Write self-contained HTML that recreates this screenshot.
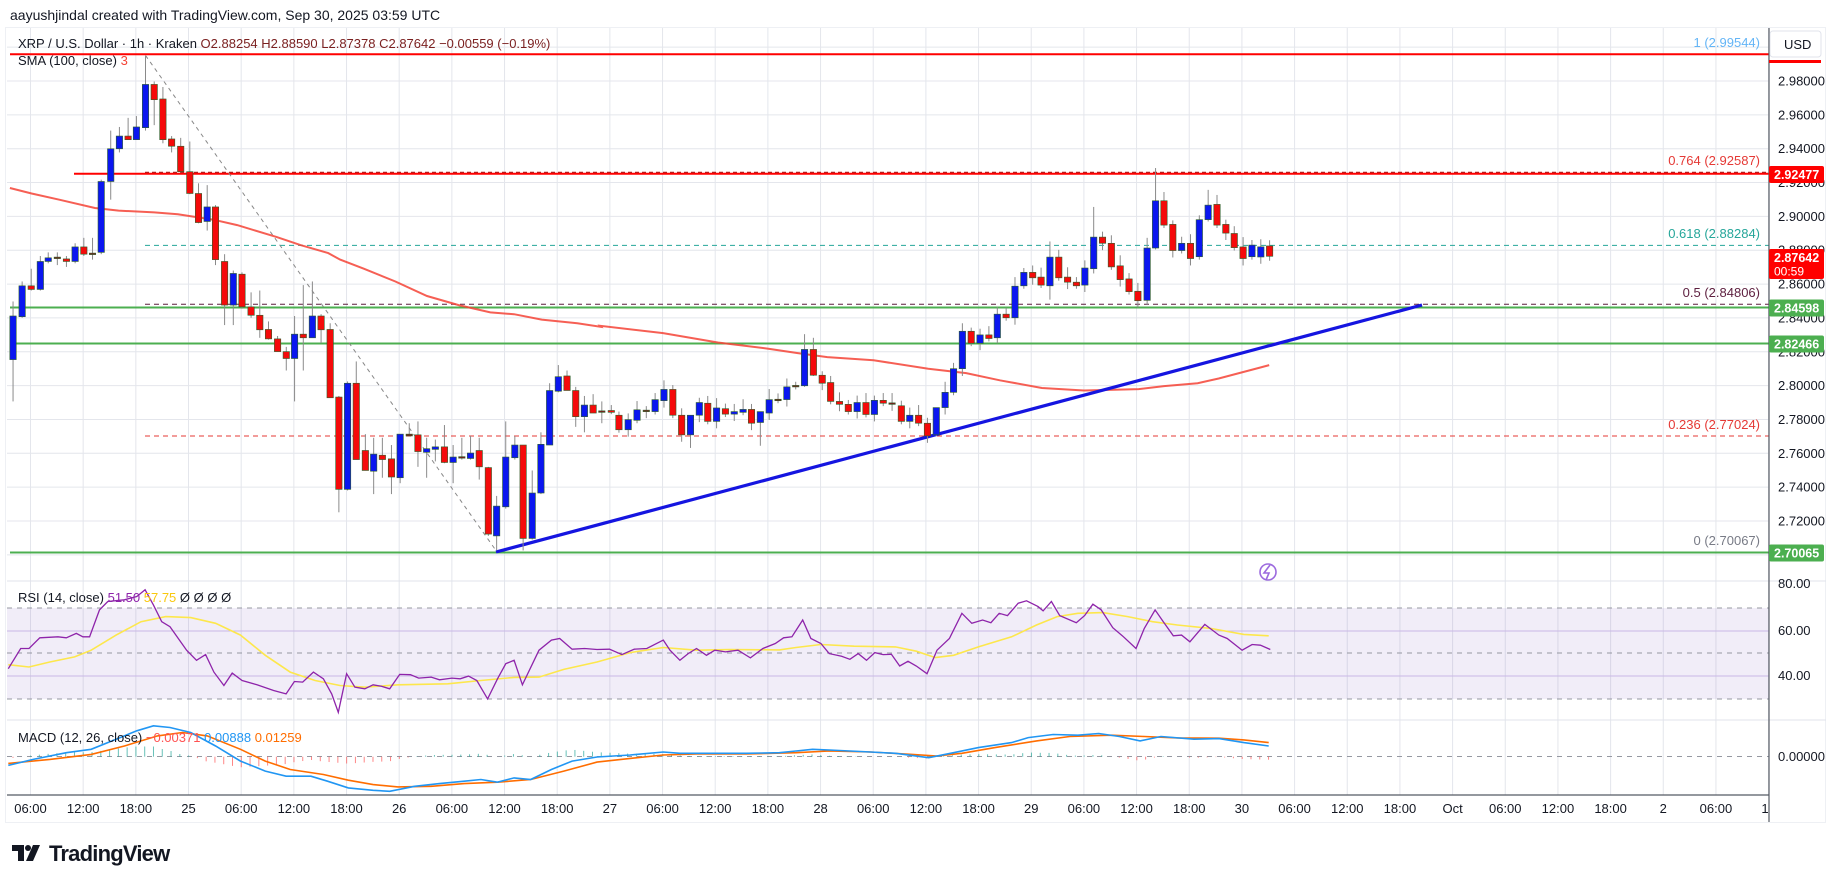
<!DOCTYPE html>
<html><head><meta charset="utf-8">
<style>
html,body{margin:0;padding:0;background:#fff;width:1835px;height:883px;overflow:hidden}
svg{display:block;font-family:"Liberation Sans",sans-serif}
</style></head><body>
<svg id="s" width="1835" height="883" viewBox="0 0 1835 883" xmlns="http://www.w3.org/2000/svg">
<defs>
<clipPath id="plot"><rect x="7" y="28" width="1762" height="767"/></clipPath>
<clipPath id="main"><rect x="7" y="28" width="1762" height="553"/></clipPath>
<clipPath id="rsi"><rect x="7" y="582" width="1762" height="138"/></clipPath>
<clipPath id="macd"><rect x="7" y="721" width="1762" height="74"/></clipPath>
</defs>
<rect x="0" y="0" width="1835" height="883" fill="#fff"/>
<text x="10" y="20" font-size="14" fill="#131722">aayushjindal created with TradingView.com, Sep 30, 2025 03:59 UTC</text>
<rect x="5.5" y="27.5" width="1820" height="795" fill="#fff" stroke="#eef0f4" stroke-width="1"/>
<g id="grid"></g>
<g id="g"></g>
</svg>
<script>
const NS="http://www.w3.org/2000/svg";
const G=document.getElementById('g'), GR=document.getElementById('grid');
function el(p,tag,a,txt){const e=document.createElementNS(NS,tag);for(const k in a)e.setAttribute(k,a[k]);if(txt!==undefined)e.textContent=txt;p.appendChild(e);return e;}
const py=p=>81+(2.98-p)*1692.3;
for(let k=0;k<=34;k++){const x=30.5+52.67*k;if(x<1769)el(GR,'line',{x1:x,y1:28,x2:x,y2:795,stroke:'#e4e6ec','stroke-width':1});}
for(let p=2.70;p<=3.001;p+=0.02){el(GR,'line',{x1:7,y1:py(p),x2:1769,y2:py(p),stroke:'#e4e6ec'});}
[631,676].forEach(y=>el(GR,'line',{x1:7,y1:y,x2:1769,y2:y,stroke:'#e4e6ec'}));
el(G,'line',{x1:7,y1:581,x2:1826,y2:581,stroke:'#e0e3eb'});
el(G,'line',{x1:7,y1:720,x2:1826,y2:720,stroke:'#e0e3eb'});
el(G,'rect',{x:7,y:608,width:1762,height:91,fill:'#7e57c2','fill-opacity':0.11});
[608,653,699].forEach(y=>el(G,'line',{x1:7,y1:y,x2:1769,y2:y,stroke:'#9598a1','stroke-dasharray':'5,5','stroke-width':1}));
[631,676].forEach(y=>el(G,'line',{x1:7,y1:y,x2:1769,y2:y,stroke:'#c9b8e6'}));
el(G,'line',{x1:7,y1:756.5,x2:1769,y2:756.5,stroke:'#9598a1','stroke-dasharray':'5,5'});
const M=el(G,'g',{'clip-path':'url(#main)'});
el(M,'line',{x1:10,y1:54.3,x2:1769,y2:54.3,stroke:'#ff0000','stroke-width':2});
el(M,'line',{x1:74,y1:173.8,x2:1769,y2:173.8,stroke:'#ff0000','stroke-width':2});
el(M,'line',{x1:145,y1:172.4,x2:1769,y2:172.4,stroke:'#b71c1c','stroke-dasharray':'4,3','stroke-width':1.2});
el(M,'line',{x1:145,y1:245.4,x2:1769,y2:245.4,stroke:'#26a69a','stroke-dasharray':'5,4','stroke-width':1});
el(M,'line',{x1:145,y1:304.2,x2:1769,y2:304.2,stroke:'#5d1f3f','stroke-dasharray':'5,4','stroke-width':1});
el(M,'line',{x1:10,y1:307.5,x2:1769,y2:307.5,stroke:'#4caf50','stroke-width':2});
el(M,'line',{x1:10,y1:343.5,x2:1769,y2:343.5,stroke:'#4caf50','stroke-width':2});
el(M,'line',{x1:145,y1:436,x2:1769,y2:436,stroke:'#e53935','stroke-dasharray':'5,4','stroke-width':1});
el(M,'line',{x1:10,y1:552.5,x2:1769,y2:552.5,stroke:'#4caf50','stroke-width':2});
el(M,'line',{x1:145.5,y1:55.4,x2:496,y2:550.5,stroke:'#888','stroke-dasharray':'4,4','stroke-width':1});
function pts(arr,fx,fy){return arr.map(p=>fx(p[0]).toFixed(1)+','+fy(p[1]).toFixed(1)).join(' ');}
const x6=x=>x/2.529, y6=y=>27+y/2.751, x7=x=>600+x/2.376;
const sma6=[[25,443],[80,458],[150,475],[240,498],[300,505],[390,510],[450,515],[540,530],[600,545],[700,578],[760,600],[830,622],[860,640],[920,665],[1000,700],[1080,740],[1160,765],[1240,785],[1300,790],[1370,805],[1460,815],[1520,825]];
const sma7=[[0,822],[150,842],[280,868],[400,885],[470,897],[540,908],[650,917],[780,940],[870,952],[950,972],[1050,993],[1150,1000],[1280,996],[1340,988],[1420,980],[1470,967],[1568,937],[1590,930]];
el(M,'polyline',{points:pts(sma6,x6,y6)+' '+pts(sma7,x7,y6),fill:'none',stroke:'#f44336','stroke-width':2,'stroke-opacity':0.85});
const c6=[[33,'B',795,915,755,1030],[56,'B',712,797,700,800],[79,'R',712,722,665,725],[102,'B',645,722,630,725],[122,'B',635,645,620,650],[145,'D',633,635,620,655],[168,'R',638,645,630,660],[190,'B',605,645,595,650],[212,'R',605,625,580,630],[234,'D',622,625,580,640],[256,'B',425,620,420,625],[280,'B',335,425,285,475],[302,'B',300,335,275,345],[324,'R',300,310,250,310],[345,'B',275,310,245,310],[368,'B',158,277,80,285],[390,'R',158,200,150,270],[412,'R',198,310,165,320],[434,'R',308,328,300,345],[457,'R',328,398,305,400],[480,'R',398,458,315,460],[502,'R',458,538,430,540],[524,'B',495,535,435,560],[545,'R',495,640,490,655],[568,'R',645,765,625,820],[590,'B',678,765,670,820],[612,'R',680,770,675,775],[635,'R',770,793,730,800],[657,'R',793,833,725,855],[679,'R',832,858,810,860],[702,'R',858,893,850,893],[724,'R',893,912,880,945],[745,'B',845,912,795,1030],[767,'R',845,855,710,945],[790,'B',795,855,700,855],[812,'R',795,833,790,870],[835,'R',832,1020,815,1020],[857,'R',1018,1272,1015,1335],[879,'B',980,1272,975,1275],[901,'R',980,1190,920,1190],[924,'R',1165,1220,1120,1220],[945,'B',1175,1222,1130,1285],[967,'R',1178,1190,1130,1240],[990,'R',1188,1238,1150,1285],[1012,'B',1120,1240,1120,1255],[1035,'D',1120,1125,1090,1125],[1057,'R',1122,1168,1085,1210],[1079,'B',1160,1170,1130,1240],[1101,'B',1155,1162,1135,1195],[1124,'R',1155,1198,1095,1200],[1146,'B',1183,1198,1150,1255],[1168,'D',1182,1185,1130,1190],[1190,'B',1172,1187,1125,1190],[1212,'R',1165,1210,1130,1245],[1235,'R',1212,1395,1210,1400],[1256,'B',1318,1400,1290,1440],[1279,'B',1183,1320,1085,1325],[1302,'B',1150,1185,1125,1190],[1323,'R',1150,1407,1150,1440],[1346,'B',1282,1407,1220,1410],[1368,'B',1148,1282,1115,1285],[1390,'B',1000,1150,980,1150],[1412,'B',962,1002,930,1005],[1434,'R',960,1000,945,1000],[1456,'R',1000,1072,990,1100],[1478,'B',1040,1072,1015,1115],[1500,'R',1040,1062,1010,1062],[1522,'D',1056,1059,1030,1090],[1546,'R',1055,1060,1040,1065]];
const c7raw=[[45,'R',1068,1108],[67,'B',1080,1108],[88,'B',1053,1082],[110,'D',1054,1057],[131,'B',1025,1058],[152,'B',997,1028],[173,'R',997,1068],[194,'R',1068,1122],[215,'B',1068,1122],[236,'B',1033,1068],[256,'R',1035,1085],[277,'B',1048,1085],[298,'R',1050,1065],[319,'B',1058,1065],[340,'B',1052,1060],[360,'R',1052,1090],[381,'B',1058,1088],[402,'B',1025,1062],[423,'D',1024,1027],[444,'B',990,1025],[465,'D',986,989],[486,'B',887,987],[507,'R',887,958],[528,'R',958,980],[548,'R',978,1030],[569,'R',1030,1038],[590,'R',1038,1058],[611,'B',1033,1058],[632,'R',1033,1066],[652,'B',1027,1066],[673,'R',1027,1035],[694,'D',1034,1037],[716,'R',1042,1085],[736,'B',1068,1085],[757,'R',1068,1090],[778,'R',1090,1125],[799,'B',1047,1122],[820,'B',1005,1047],[840,'B',940,1005],[861,'B',837,940],[882,'R',837,870],[903,'B',847,870],[924,'R',847,857],[944,'B',790,855],[965,'R',790,800],[986,'B',713,800],[1007,'B',675,712],[1028,'R',675,690],[1048,'R',688,710],[1069,'B',633,712],[1090,'R',633,690],[1111,'R',688,702],[1132,'R',702,712],[1152,'B',663,710],[1173,'B',578,665],[1194,'R',578,595],[1215,'R',595,660],[1236,'R',657,695],[1257,'R',693,728],[1278,'R',727,753],[1300,'B',608,752],[1320,'B',478,608],[1340,'R',478,545],[1361,'R',543,615],[1382,'B',595,615],[1403,'R',595,637],[1424,'B',530,632],[1445,'B',490,530],[1466,'R',488,545],[1487,'R',543,567],[1507,'R',568,607],[1528,'R',605,637],[1549,'B',600,632]];
const wk={486:[845,990],507:[855,960],1173:[495,678],1069:[590,750],1320:[388,612],1445:[448,535],799:[1125,1125],1300:[580,765],944:[770,870],861:[815,960],215:[1068,1158],381:[1058,1152]};
function candle(x,c,t,b,wt,wb){
  el(G,'line',{x1:x,y1:wt,x2:x,y2:wb,stroke:'#8a8a8a','stroke-width':1});
  const col=c==='B'?'#0a16f0':(c==='R'?'#f50a0a':'#7a1a1a');
  const h=Math.max(b-t,1.5);
  el(G,'rect',{x:x-3.2,y:t,width:6.4,height:h,fill:col,stroke:'#2f5f2a','stroke-width':0.6});
}
c6.forEach(c=>candle(x6(c[0]),c[1],y6(c[2]),y6(c[3]),y6(c[4]),y6(c[5])));
c7raw.forEach((c,i)=>{let wt=c[2]-(10+(i*7)%20),wb=c[3]+(8+(i*11)%22);if(wk[c[0]]){wt=Math.min(wk[c[0]][0],c[2]);wb=Math.max(wk[c[0]][1],c[3]);}candle(x7(c[0]),c[1],y6(c[2]),y6(c[3]),y6(wt),y6(wb));});
candle(1260.8,'B',py(2.882),py(2.876),py(2.8865),py(2.872));
candle(1269.6,'R',py(2.88254),py(2.87642),py(2.8859),py(2.87378));
el(M,'line',{x1:496,y1:552,x2:1422,y2:305,stroke:'#1515e0','stroke-width':3.2});
el(G,'circle',{cx:1268,cy:572,r:8,fill:'none',stroke:'#9c6ade','stroke-width':1.6});
el(G,'path',{d:'M1270 565 L1264 573 L1269 573 L1266 580',fill:'none',stroke:'#9c6ade','stroke-width':1.6});
const RC=el(G,'g',{'clip-path':'url(#rsi)'});
const xz8=x=>x/1.206, yz8=y=>578+y/2.977;
const rsi=[[10,270],[25,210],[35,210],[48,178],[70,175],[80,178],[92,165],[100,175],[108,175],[120,95],[130,70],[150,65],[165,55],[175,35],[185,80],[195,130],[205,145],[215,180],[225,215],[237,245],[248,228],[258,280],[270,320],[280,283],[292,305],[310,318],[330,335],[345,345],[355,308],[365,310],[378,280],[390,300],[400,345],[408,400],[418,285],[428,325],[440,330],[450,318],[460,322],[470,330],[482,287],[495,288],[505,298],[520,295],[530,303],[545,298],[555,300],[565,292],[575,305],[588,360],[600,300],[610,255],[620,245],[630,318],[650,215],[665,185],[675,180],[690,212],[705,210],[720,213],[735,212],[750,228],[765,212],[780,210],[800,185],[808,215],[820,245],[830,225],[840,210],[852,230],[862,215],[875,220],[890,215],[905,238],[920,210],[935,195],[945,178],[955,175],[968,125],[978,180],[990,195],[1000,225],[1015,233],[1025,242],[1035,225],[1045,245],[1055,222],[1065,228],[1075,227],[1085,262],[1095,248],[1105,262],[1118,285],[1130,215],[1145,180],[1160,105],[1172,135],[1185,125],[1195,133],[1205,105],[1215,112],[1228,75],[1238,68],[1252,85],[1258,98],[1268,70],[1278,112],[1298,133],[1308,112],[1318,78],[1328,95],[1342,148],[1355,175],[1370,210],[1380,150],[1393,95],[1403,130],[1415,172],[1425,170],[1435,190],[1453,138],[1470,170],[1480,180],[1498,215],[1510,198],[1520,200],[1532,213]];
const rma=[[10,258],[35,265],[60,250],[90,235],[110,215],[140,170],[170,130],[200,115],[230,118],[260,135],[290,170],[320,230],[350,280],[380,305],[410,320],[440,325],[480,318],[540,315],[580,305],[620,296],[650,295],[680,272],[720,250],[760,222],[800,207],[840,215],[880,213],[940,214],[960,207],[990,198],[1030,203],[1080,205],[1105,218],[1128,237],[1150,230],[1180,205],[1220,175],[1250,140],[1275,115],[1300,105],[1330,103],[1360,115],[1390,130],[1420,140],[1460,150],[1500,168],[1530,172]];
el(RC,'polyline',{points:pts(rma,xz8,yz8),fill:'none',stroke:'#fde74c','stroke-width':1.6});
el(RC,'polyline',{points:pts(rsi,xz8,yz8),fill:'none',stroke:'#8e24aa','stroke-width':1.3});
const MC=el(G,'g',{'clip-path':'url(#macd)'});
const mb=[[10,558],[40,540],[80,520],[110,510],[140,480],[165,455],[185,440],[205,445],[230,460],[260,500],[290,545],[320,575],[345,590],[375,590],[395,605],[420,625],[450,632],[470,635],[500,620],[530,612],[560,605],[580,600],[600,608],[620,595],[640,600],[665,570],[690,545],[720,533],[760,527],[800,518],[820,522],[900,522],[940,520],[960,515],[980,510],[1000,512],[1050,518],[1080,522],[1120,535],[1150,520],[1180,505],[1220,490],[1240,475],[1270,466],[1300,468],[1325,463],[1350,472],[1375,485],[1400,472],[1440,480],[1470,478],[1500,490],[1530,500]];
const mo=[[10,552],[60,540],[110,525],[150,500],[190,470],[220,460],[250,470],[290,510],[320,545],[350,570],[390,585],[420,602],[450,615],[480,622],[520,620],[560,612],[600,608],[640,600],[680,575],[720,548],[760,537],[800,527],[840,524],[900,524],[960,520],[1000,515],[1050,518],[1100,525],[1130,530],[1160,522],[1200,505],[1250,485],[1290,472],[1340,468],[1380,472],[1420,476],[1470,477],[1500,482],[1530,490]];
function interp(a,x){for(let i=1;i<a.length;i++){if(a[i][0]>=x){const t=(x-a[i-1][0])/(a[i][0]-a[i-1][0]);return a[i-1][1]+t*(a[i][1]-a[i-1][1]);}}return a[a.length-1][1];}
for(let i=0;i<144;i++){const xr=13+8.78*i, zx=xr*1.206; const d=(interp(mo,zx)-interp(mb,zx))*0.9; const y0=yz8(532); const h=d/2.977;
 if(Math.abs(h)<0.3)continue;
 el(MC,'line',{x1:xr,y1:y0,x2:xr,y2:y0-h,stroke:h>0?'#26a69a':'#ff5252','stroke-width':1,'stroke-opacity':0.7});}
el(MC,'polyline',{points:pts(mo,xz8,yz8),fill:'none',stroke:'#ff6d00','stroke-width':1.6});
el(MC,'polyline',{points:pts(mb,xz8,yz8),fill:'none',stroke:'#2196f3','stroke-width':1.6});
el(G,'line',{x1:1769,y1:28,x2:1769,y2:822,stroke:'#555a63','stroke-width':1.2});
el(G,'line',{x1:7,y1:795,x2:1769,y2:795,stroke:'#555a63','stroke-width':1.2});
const cp=el(document.querySelector('defs'),'clipPath',{id:'plot2'});el(cp,'rect',{x:0,y:796,width:1769,height:30});
const TL=el(G,'g',{'clip-path':'url(#plot2)'});
const days=['25','26','27','28','29','30','Oct','2'];
for(let k=0;k<=33;k++){const x=30.5+52.67*k; const m=k%4; let t=m===0?'06:00':m===1?'12:00':m===2?'18:00':days[(k-3)/4];
 if(k===33)t='12';
 el(TL,'text',{x:x,y:813,'font-size':13,fill:'#131722','text-anchor':'middle'},t);}
for(let p=2.72;p<=2.981;p+=0.02){el(G,'text',{x:1778,y:py(p)+4.5,'font-size':13,fill:'#131722'},p.toFixed(5));}
el(G,'text',{x:1778,y:588,'font-size':13,fill:'#131722'},'80.00');
el(G,'text',{x:1778,y:635,'font-size':13,fill:'#131722'},'60.00');
el(G,'text',{x:1778,y:680,'font-size':13,fill:'#131722'},'40.00');
el(G,'text',{x:1778,y:761,'font-size':13,fill:'#131722'},'0.00000');
el(G,'rect',{x:1770,y:31,width:51,height:26,rx:3,fill:'#fff',stroke:'#e0e3eb'});
el(G,'text',{x:1784,y:49,'font-size':13,fill:'#131722'},'USD');
el(G,'rect',{x:1769,y:60,width:52,height:3,fill:'#ff0000'});
function tag(y,c,t,t2){const h=t2?30:17;el(G,'rect',{x:1769,y:y-8.5,width:55,height:h,rx:2,fill:c});el(G,'text',{x:1774,y:y+4.5,'font-size':12.5,fill:'#fff','font-weight':'bold'},t);if(t2)el(G,'text',{x:1774,y:y+18,'font-size':12,fill:'#fff'},t2);}
tag(174.5,'#ff0000','2.92477');
tag(257.5,'#ff0000','2.87642','00:59');
tag(308,'#4caf50','2.84598');
tag(344,'#4caf50','2.82466');
tag(553,'#4caf50','2.70065');
function fl(y,c,t){el(G,'text',{x:1760,y:y,'font-size':13,fill:c,'text-anchor':'end'},t);}
fl(47,'#64b5f6','1 (2.99544)');fl(165,'#e53935','0.764 (2.92587)');fl(238,'#26a69a','0.618 (2.88284)');
fl(297,'#5d1f3f','0.5 (2.84806)');fl(429,'#e53935','0.236 (2.77024)');fl(545,'#787b86','0 (2.70067)');
const L=el(G,'text',{x:18,y:48,'font-size':13,fill:'#131722'});
[['XRP / U.S. Dollar · 1h · Kraken  ','#131722'],['O2.88254  H2.88590  L2.87378  C2.87642  −0.00559 (−0.19%)','#7a1f1f']].forEach(a=>el(L,'tspan',{fill:a[1]},a[0]));
const L2=el(G,'text',{x:18,y:65,'font-size':13,fill:'#131722'});el(L2,'tspan',{},'SMA (100, close)  ');el(L2,'tspan',{fill:'#f44336'},'3');
const L3=el(G,'text',{x:18,y:602,'font-size':13,fill:'#131722'});el(L3,'tspan',{},'RSI (14, close)  ');el(L3,'tspan',{fill:'#8e24aa'},'51.50 ');el(L3,'tspan',{fill:'#f9c80e'},' 57.75  ');el(L3,'tspan',{},'Ø  Ø  Ø  Ø');
const L4=el(G,'text',{x:18,y:742,'font-size':13,fill:'#131722'});el(L4,'tspan',{},'MACD (12, 26, close)  ');el(L4,'tspan',{fill:'#ff5252'},'−0.00371 ');el(L4,'tspan',{fill:'#2196f3'},' 0.00888 ');el(L4,'tspan',{fill:'#ff6d00'},' 0.01259');
el(G,'path',{d:'M12 845 H24 V861 H18 V851 H12 Z',fill:'#131722'});
el(G,'circle',{cx:28,cy:848,r:3,fill:'#131722'});
el(G,'path',{d:'M33 845 H40 L33 861 H26 Z',fill:'#131722'});
el(G,'text',{x:49,y:861,'font-size':22,'font-weight':'bold',fill:'#131722','letter-spacing':'-0.8'},'TradingView');
</script>
</body></html>
